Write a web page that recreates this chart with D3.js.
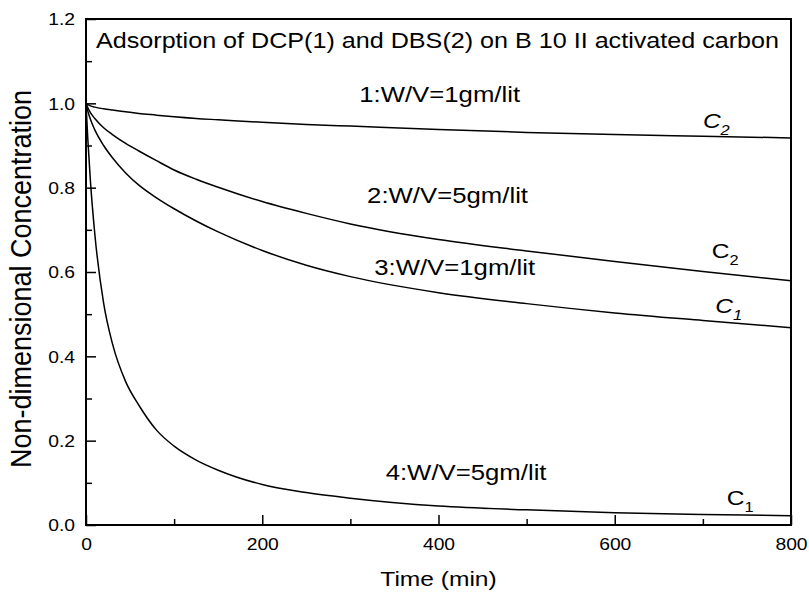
<!DOCTYPE html>
<html>
<head>
<meta charset="utf-8">
<script src="https://cdn.jsdelivr.net/npm/d3@7"></script>
<style>
  html, body { margin: 0; padding: 0; background: #fff; }
  text { font-family: "Liberation Sans", Arial, sans-serif; fill: #000; }
</style>
</head>
<body>
<svg id="chart" width="809" height="594"></svg>
<script>
// ---- data ----
const times = [0, 2, 5, 10, 20, 30, 45, 60, 80, 100, 125, 150, 200, 250, 300, 400, 500, 600, 700, 800];
const curve1 = [1.0, 0.997, 0.994, 0.991, 0.987, 0.984, 0.980, 0.976, 0.972, 0.968, 0.964, 0.961, 0.955, 0.950, 0.946, 0.938, 0.931, 0.926, 0.922, 0.918];
const curve2 = [1.0, 0.990, 0.978, 0.964, 0.942, 0.926, 0.905, 0.887, 0.864, 0.842, 0.820, 0.801, 0.767, 0.739, 0.714, 0.677, 0.650, 0.625, 0.601, 0.579];
const curve3 = [1.0, 0.982, 0.962, 0.937, 0.900, 0.871, 0.835, 0.806, 0.776, 0.750, 0.721, 0.695, 0.651, 0.616, 0.589, 0.551, 0.525, 0.503, 0.485, 0.468];
const curve4 = [1.0, 0.917, 0.816, 0.690, 0.526, 0.430, 0.340, 0.284, 0.225, 0.187, 0.154, 0.130, 0.096, 0.077, 0.0637, 0.045, 0.036, 0.029, 0.025, 0.022];
const seriesValues = [curve1, curve2, curve3, curve4];
const curveLabels = ["1:W/V=1gm/lit", "2:W/V=5gm/lit", "3:W/V=1gm/lit", "4:W/V=5gm/lit"];
const endLabels = [
  {main: "C", sub: "2", italic: true},
  {main: "C", sub: "2", italic: false},
  {main: "C", sub: "1", italic: true},
  {main: "C", sub: "1", italic: false}
];
const xTicks = [0, 200, 400, 600, 800];
const xMinorTicks = [100, 300, 500, 700];
const yTicks = [0.0, 0.2, 0.4, 0.6, 0.8, 1.0, 1.2];
const yMinorTicks = [0.1, 0.3, 0.5, 0.7, 0.9, 1.1];
const titleText = "Adsorption of DCP(1) and DBS(2) on B 10 II activated carbon";
const xTitle = "Time (min)";
const yTitle = "Non-dimensional Concentration";

// ---- layout ----
const L = 86, R = 791, T = 19, B = 525;
const SX = 1.17; // horizontal stretch of glyphs in the reference

const svg = d3.select("#chart");
const x = d3.scaleLinear().domain([0, 800]).range([L, R]);
const y = d3.scaleLinear().domain([0, 1.2]).range([B, T]);

// minor ticks
svg.append("g").attr("transform", `translate(0,${B})`)
  .call(d3.axisTop(x).tickValues(xMinorTicks).tickSize(6).tickFormat(""))
  .call(g => g.select(".domain").remove())
  .selectAll("line").attr("stroke", "#000").attr("stroke-width", 1.5);
svg.append("g").attr("transform", `translate(${L},0)`)
  .call(d3.axisRight(y).tickValues(yMinorTicks).tickSize(6).tickFormat(""))
  .call(g => g.select(".domain").remove())
  .selectAll("line").attr("stroke", "#000").attr("stroke-width", 1.5);

// major ticks (inward)
svg.append("g").attr("transform", `translate(0,${B})`)
  .call(d3.axisTop(x).tickValues(xTicks).tickSize(10).tickFormat(""))
  .call(g => g.select(".domain").remove())
  .selectAll("line").attr("stroke", "#000").attr("stroke-width", 1.5);
svg.append("g").attr("transform", `translate(${L},0)`)
  .call(d3.axisRight(y).tickValues(yTicks).tickSize(10).tickFormat(""))
  .call(g => g.select(".domain").remove())
  .selectAll("line").attr("stroke", "#000").attr("stroke-width", 1.5);

// tick labels via axes
const xAx = svg.append("g").attr("transform", `translate(0,${B})`)
  .call(d3.axisBottom(x).tickValues(xTicks).tickSize(0).tickPadding(0).tickFormat(d3.format("d")));
xAx.select(".domain").remove();
xAx.selectAll("text").attr("y", 0).attr("dy", null)
  .attr("transform", `translate(0,25) scale(${SX},1)`)
  .style("font-size", "16.5px").attr("fill", "#000");

const yAx = svg.append("g").attr("transform", `translate(${L},0)`)
  .call(d3.axisLeft(y).tickValues(yTicks).tickSize(0).tickPadding(0).tickFormat(d3.format(".1f")));
yAx.select(".domain").remove();
yAx.selectAll("text").attr("x", 0).attr("dy", "0.36em")
  .attr("transform", `translate(-11,0) scale(${SX},1)`)
  .style("font-size", "16.5px").attr("fill", "#000");

// frame
svg.append("rect").attr("x", L).attr("y", T).attr("width", R - L).attr("height", B - T)
  .attr("fill", "none").attr("stroke", "#000").attr("stroke-width", 2);

// curves
const line = d3.line().x((d, i) => x(times[i])).y(d => y(d)).curve(d3.curveMonotoneX);
svg.append("g").selectAll("path").data(seriesValues).join("path")
  .attr("d", d => line(d)).attr("fill", "none").attr("stroke", "#000").attr("stroke-width", 1.5);

// stretched text helper
function stext(g, tx, ty, str, size, anchor) {
  return g.append("text").attr("transform", `translate(${tx},${ty}) scale(${SX},1)`)
    .attr("text-anchor", anchor || "start").style("font-size", size + "px").text(str);
}

// title inside plot
stext(svg, 96, 48, titleText, 21.5, "start");

// curve labels (data coordinates)
const labelPos = [[310, 1.003], [319, 0.7636], [327, 0.593], [340, 0.1067]];
curveLabels.forEach((s, i) => stext(svg, x(labelPos[i][0]), y(labelPos[i][1]), s, 22, "start"));

// end labels C1/C2 (data coordinates)
const endPos = [[700, 0.9415], [710, 0.633], [714, 0.5028], [727, 0.0474]];
endLabels.forEach((e, i) => {
  const t = svg.append("text")
    .attr("transform", `translate(${x(endPos[i][0])},${y(endPos[i][1])}) scale(${SX},1)`)
    .style("font-size", "21px").style("font-style", e.italic ? "italic" : "normal");
  t.append("tspan").text(e.main);
  t.append("tspan").attr("dy", 7).style("font-size", "14px").text(e.sub);
});

// axis titles
stext(svg, (L + R) / 2, 586, xTitle, 21, "middle");
svg.append("text")
  .attr("transform", `translate(31,279) rotate(-90) scale(1,1.08)`)
  .attr("text-anchor", "middle").style("font-size", "27px").text(yTitle);
</script>
</body>
</html>
